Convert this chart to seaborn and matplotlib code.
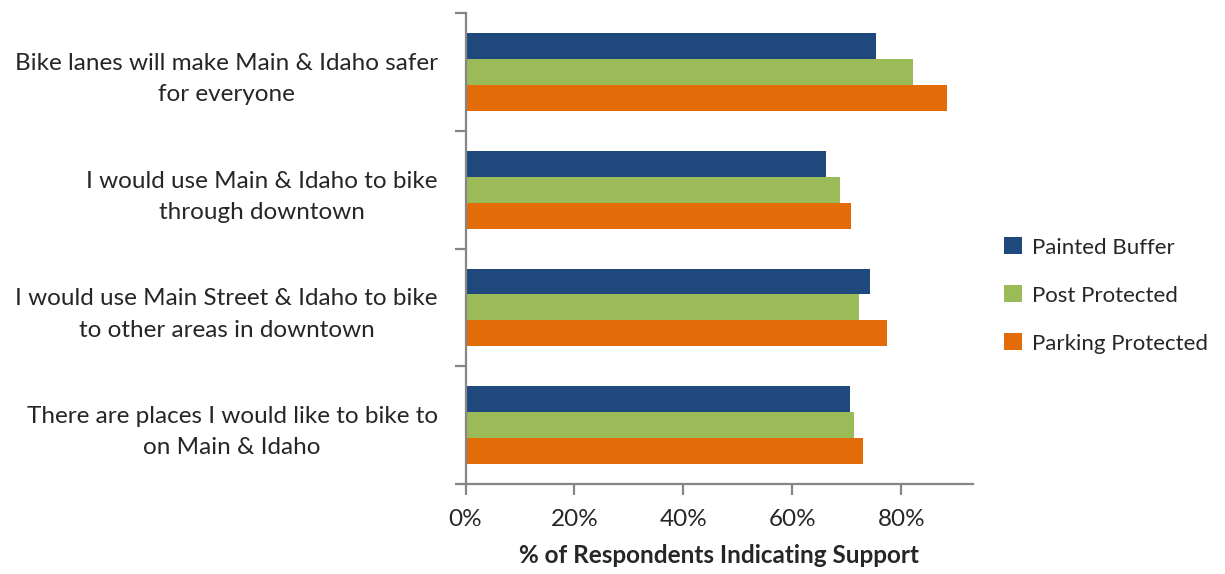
import matplotlib
matplotlib.use("Agg")
import matplotlib.pyplot as plt
from matplotlib.ticker import FixedLocator, PercentFormatter
import seaborn as sns
import pandas as pd

statements = [
    "Bike lanes will make Main & Idaho safer\nfor everyone",
    "I would use Main & Idaho to bike\nthrough downtown",
    "I would use Main Street & Idaho to bike\nto other areas in downtown",
    "There are places I would like to bike to\non Main & Idaho",
]
designs = ["Painted Buffer", "Post Protected", "Parking Protected"]
painted_buffer = [0.754, 0.661, 0.742, 0.705]
post_protected = [0.821, 0.687, 0.723, 0.714]
parking_protected = [0.884, 0.708, 0.774, 0.729]
x_ticks = [0, 0.2, 0.4, 0.6, 0.8]
colors = ["#1F497D", "#9BBB59", "#E36C09"]

rows = []
for design, vals in zip(designs, [painted_buffer, post_protected, parking_protected]):
    for s, v in zip(statements, vals):
        rows.append({"statement": s, "design": design, "share": v})
df = pd.DataFrame(rows)

sns.set_style("white")
plt.rcParams["font.family"] = ["Lato", "DejaVu Sans"]

fig = plt.figure(figsize=(12.25, 5.74), dpi=100)
ax = fig.add_axes([0.380, 0.157, 0.414, 0.820])

sns.barplot(data=df, y="statement", x="share", hue="design", order=statements,
            hue_order=designs, palette=colors, orient="h", width=0.66,
            saturation=1, linewidth=0, ax=ax, legend=True)

ax.set_xlim(0, 0.931)
ax.set_ylim(3.5, -0.5)
ax.xaxis.set_major_locator(FixedLocator(x_ticks))
ax.xaxis.set_major_formatter(PercentFormatter(1.0, decimals=0))

spine_col = "#868686"
for side in ["top", "right"]:
    ax.spines[side].set_visible(False)
for side in ["left", "bottom"]:
    ax.spines[side].set_color(spine_col)
    ax.spines[side].set_linewidth(1.6)

# tick marks at category boundaries, labels at the centres
ax.yaxis.set_minor_locator(FixedLocator([-0.5, 0.5, 1.5, 2.5, 3.5]))
ax.tick_params(axis="y", which="major", length=0, pad=20, labelsize=17.5)
ax.tick_params(axis="y", which="minor", length=8, width=1.6, color=spine_col, left=True)
ax.tick_params(axis="x", which="major", length=8, width=1.6, color=spine_col,
               bottom=True, labelsize=17.5, pad=10)
for lab in ax.get_yticklabels():
    lab.set_multialignment("center")
    lab.set_linespacing(1.6)

ax.set_ylabel("")
ax.set_xlabel("% of Respondents Indicating Support", fontsize=17.5,
              fontweight="bold", labelpad=10)

ax.legend(loc="center left", bbox_to_anchor=(1.022, 0.40), frameon=False,
          fontsize=16, handlelength=0.8, handleheight=0.8, handletextpad=0.45,
          labelspacing=1.25)

fig.savefig("out.png", dpi=100)
